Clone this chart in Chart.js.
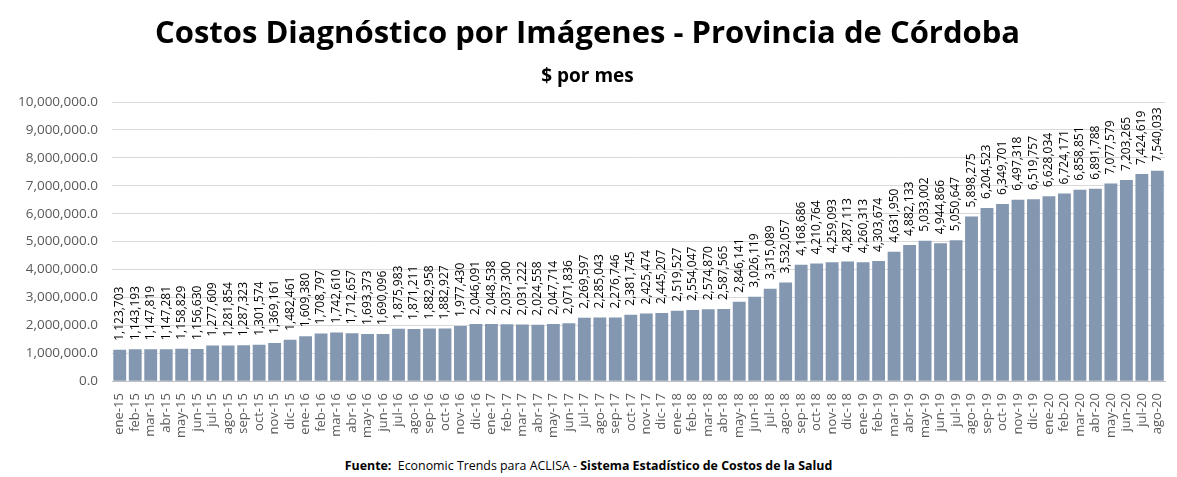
<!DOCTYPE html>
<html>
<head>
<meta charset="utf-8">
<script src="https://cdn.jsdelivr.net/npm/chart.js@4/dist/chart.umd.min.js"></script>
<style>
  html, body { margin: 0; padding: 0; background: #fff; }
  #wrap { width: 1177px; height: 442px; position: relative; }
  #fuente { position: absolute; left: 0; top: 457px; width: 1177px; text-align: center; font-family: "Open Sans", sans-serif; font-size: 12.4px; color: #000; }
</style>
</head>
<body>
<div id="wrap"><canvas id="myChart"></canvas></div>
<div id="fuente"><b>Fuente:</b>&nbsp; Economic Trends para ACLISA - <b>Sistema Estadístico de Costos de la Salud</b></div>
<script>
var meses = ['ene', 'feb', 'mar', 'abr', 'may', 'jun', 'jul', 'ago', 'sep', 'oct', 'nov', 'dic'];
var labels = [];
for (var a = 15; a <= 20; a++) {
  for (var m = 0; m < 12; m++) {
    if (a == 20 && m > 7) break;
    labels.push(meses[m] + '-' + a);
  }
}

var costos = [
  1123703, 1143193, 1147819, 1147281, 1158829, 1156630, 1277609, 1281854, 1287323, 1301574, 1369161, 1482461,
  1609380, 1708797, 1742610, 1712657, 1693373, 1690096, 1875983, 1871211, 1882958, 1882927, 1977430, 2046091,
  2048538, 2037300, 2031222, 2024558, 2047714, 2071836, 2269597, 2285043, 2276746, 2381745, 2425474, 2445207,
  2519527, 2554047, 2574870, 2587565, 2846141, 3026119, 3315089, 3532057, 4168686, 4210764, 4259093, 4287113,
  4260313, 4303674, 4631950, 4882133, 5033002, 4944866, 5050647, 5898275, 6204523, 6349701, 6497318, 6519757,
  6628034, 6724171, 6858851, 6891788, 7077579, 7203265, 7424619, 7540033
];

var fuente = '"Open Sans", sans-serif';

// etiquetas verticales arriba de cada barra
var etiquetas = {
  id: 'etiquetas',
  afterDatasetsDraw: function(chart) {
    var ctx = chart.ctx;
    var meta = chart.getDatasetMeta(0);
    ctx.save();
    ctx.font = '12px ' + fuente;
    ctx.fillStyle = '#000';
    ctx.textAlign = 'left';
    ctx.textBaseline = 'middle';
    meta.data.forEach(function(bar, i) {
      ctx.save();
      ctx.translate(bar.x, bar.y - 9);
      ctx.rotate(-Math.PI / 2);
      ctx.fillText(costos[i].toLocaleString('en-US'), 0, 0);
      ctx.restore();
    });
    ctx.restore();
  }
};

var ctx = document.getElementById('myChart').getContext('2d');
var chart = new Chart(ctx, {
  type: 'bar',
  data: {
    labels: labels,
    datasets: [{
      label: 'Costos',
      data: costos,
      backgroundColor: '#8497B0',
      borderWidth: 0,
      barPercentage: 1,
      categoryPercentage: 0.83
    }]
  },
  options: {
    responsive: true,
    maintainAspectRatio: false,
    animation: false,
    layout: { padding: { left: 4, right: 6, top: 0, bottom: 0 } },
    plugins: {
      legend: { display: false },
      tooltip: { enabled: false },
      title: {
        display: true,
        text: 'Costos Diagnóstico por Imágenes - Provincia de Córdoba',
        color: '#000',
        font: { family: fuente, size: 31, weight: 'bold' },
        padding: { top: 16, bottom: 6 }
      },
      subtitle: {
        display: true,
        text: '$ por mes',
        color: '#000',
        font: { family: fuente, size: 19, weight: 'bold' },
        padding: { top: 6, bottom: 14 }
      }
    },
    scales: {
      x: {
        grid: { display: false },
        border: { color: '#bfbfbf' },
        ticks: {
          autoSkip: false,
          maxRotation: 90,
          minRotation: 90,
          color: '#595959',
          font: { family: fuente, size: 13 },
          padding: 4
        }
      },
      y: {
        min: 0,
        max: 10000000,
        grid: { color: '#d9d9d9', drawTicks: false },
        border: { display: false },
        ticks: {
          stepSize: 1000000,
          color: '#595959',
          font: { family: fuente, size: 13.5 },
          padding: 14,
          callback: function(v) {
            return v.toLocaleString('en-US', { minimumFractionDigits: 1, maximumFractionDigits: 1 });
          }
        }
      }
    }
  },
  plugins: [etiquetas]
});
</script>
</body>
</html>
